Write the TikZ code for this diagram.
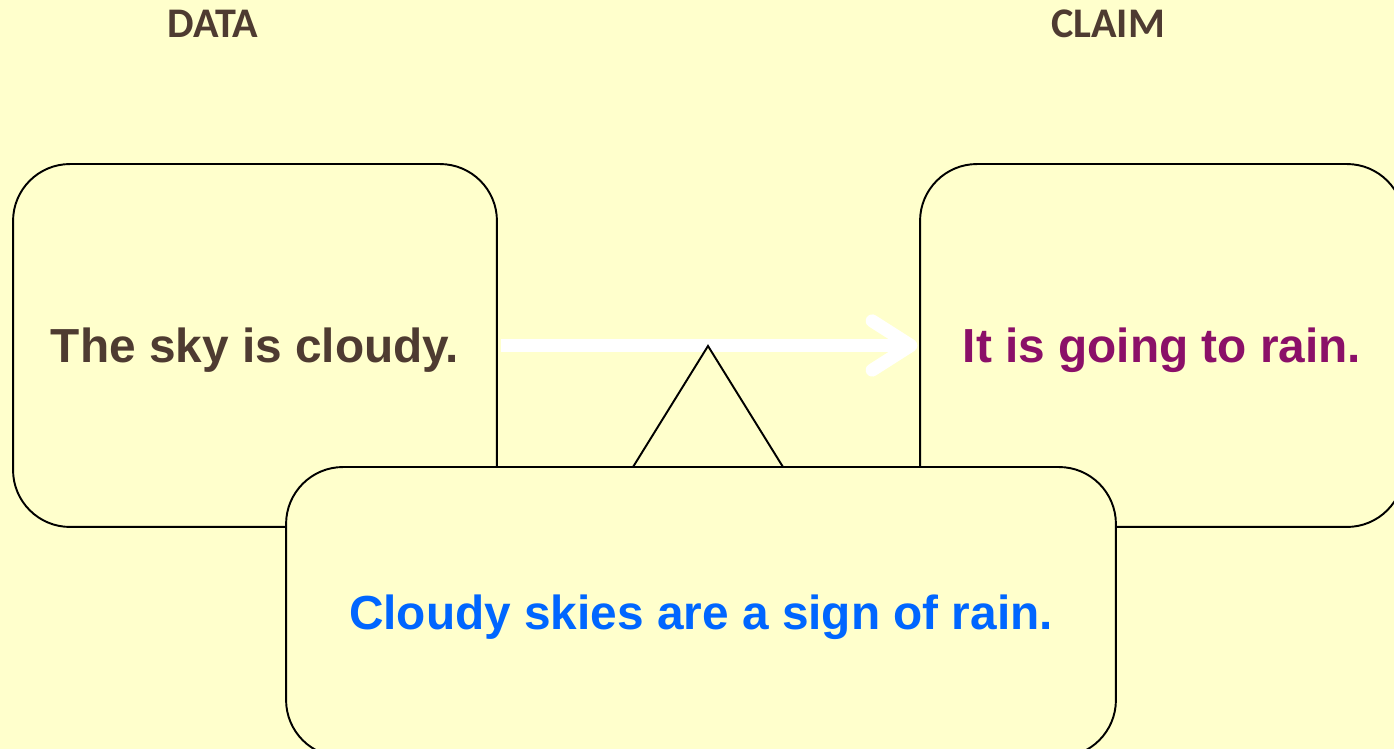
\documentclass[tikz,border=0pt]{standalone}
\usepackage{fontspec}
\setmainfont{Liberation Sans}
\newfontfamily\headfont{Carlito}
\usetikzlibrary{arrows.meta, positioning}
\definecolor{PageBg}{HTML}{FFFFCC}
\definecolor{BoxBg}{HTML}{FFFFCC}
\definecolor{Brown}{HTML}{4E3B31}
\definecolor{Plum}{HTML}{8B1068}
\definecolor{SkyBlue}{HTML}{0066FF}

\begin{document}
\begin{tikzpicture}[
            x=0.02cm, y=-0.02cm,
            head/.style={font=\headfont\bfseries\fontsize{24}{28}\selectfont, text=Brown},
            card/.style={rectangle, draw=black, line width=1.1pt, fill=BoxBg, rounded corners=1.14cm, minimum width=9.68cm, minimum height=7.26cm, text depth=0pt, font=\bfseries\fontsize{27.2}{32}\selectfont},
            wide/.style={card, minimum width=16.6cm, minimum height=5.8cm},
            flow/.style={-{Straight Barb[length=22pt, width=28pt, round]}, line width=7.4pt, color=white, shorten <=1.5pt, shorten >=1pt},
            wedge/.style={draw=black, line width=1.1pt, fill=BoxBg, line join=miter}
        ]
            \useasboundingbox (0,0) rectangle (1394,749);
            \clip (0,0) rectangle (1394,749);
            \fill[PageBg] (0,0) rectangle (1394,749);

            % Headings
            \node[head] (data) at (213,24) {DATA};
            \node[head] (claim) at (1108,24) {CLAIM};

            % Data and claim
            \node[card, text=Brown] (sky) at (255,345.5) {The sky is cloudy.};
            \node[card, text=Plum] (rain) at (1162,345.5) {It is going to rain.};

            % Connection
            \draw[flow] (sky.east) -- (rain.west);

            % Fulcrum
            \coordinate (tip) at (708,346);
            \draw[wedge] (tip) -- (633,467) -- (783,467) -- cycle;

            % Warrant
            \node[wide, text=SkyBlue] (sign) at (701,612) {Cloudy skies are a sign of rain.};
        \end{tikzpicture}
\end{document}
